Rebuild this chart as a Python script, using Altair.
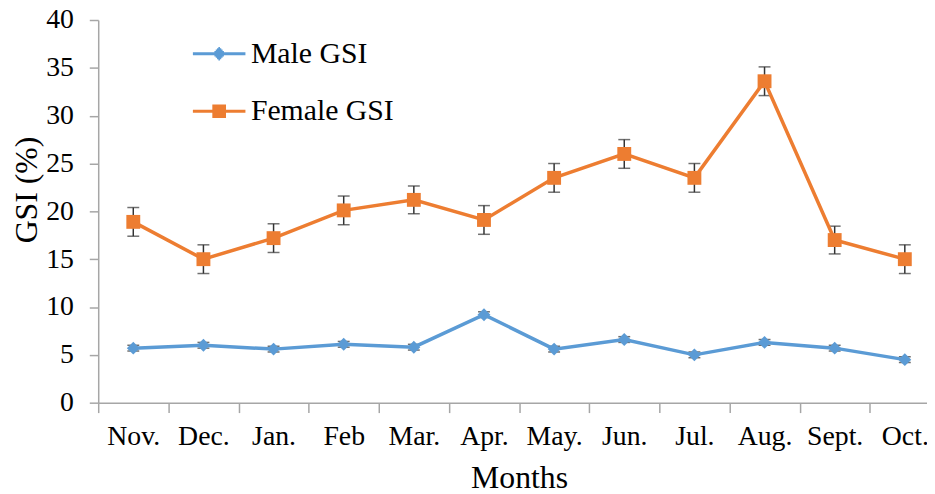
import altair as alt
import pandas as pd

months = ["Nov.", "Dec.", "Jan.", "Feb", "Mar.", "Apr.", "May.", "Jun.", "Jul.", "Aug.", "Sept.", "Oct."]
male_gsi = [5.7, 6.0, 5.6, 6.1, 5.8, 9.2, 5.6, 6.6, 5.0, 6.3, 5.7, 4.5]
male_se = [0.3, 0.3, 0.3, 0.3, 0.3, 0.3, 0.3, 0.3, 0.3, 0.3, 0.3, 0.3]
female_gsi = [18.9, 15.0, 17.2, 20.1, 21.2, 19.1, 23.5, 26.0, 23.5, 33.6, 17.0, 15.0]
female_se = [1.5, 1.5, 1.5, 1.5, 1.45, 1.5, 1.5, 1.5, 1.5, 1.5, 1.45, 1.5]
series_names = ["Male GSI", "Female GSI"]
series_colors = ["#5B9BD5", "#ED7D31"]
series_shapes = ["diamond", "square"]

rows = []
for name, vals, ses in [("Male GSI", male_gsi, male_se), ("Female GSI", female_gsi, female_se)]:
    for m, v, s in zip(months, vals, ses):
        rows.append({"month": m, "series": name, "gsi": v, "lo": v - s, "hi": v + s})
df = pd.DataFrame(rows)

FONT = "Liberation Serif"
AXIS_GREY = "#A6A6A6"


# legend glyphs: a line segment with a marker drawn as stroked hatch lines
def glyph(kind):
    parts = ["M-1,0L1,0"]
    steps = [i * 0.05 for i in range(-4, 5)]
    for yy in steps:
        w = 0.26 if kind == "square" else max(0.23 - abs(yy), 0.02)
        parts.append(f"M{-w:.3f},{yy:.3f}L{w:.3f},{yy:.3f}")
    return "".join(parts)


male_path = glyph("diamond")
female_path = glyph("square")

x_enc = alt.X(
    "month:N",
    sort=months,
    scale=alt.Scale(type="band", paddingInner=0, paddingOuter=0),
    axis=alt.Axis(
        title="Months",
        labelAngle=0,
        tickBand="extent",
        tickSize=10,
        tickColor=AXIS_GREY,
        domainColor=AXIS_GREY,
        domainWidth=1.5,
        tickWidth=1.5,
        labelFont=FONT,
        labelFontSize=28,
        labelColor="black",
        labelPadding=10,
        titleFont=FONT,
        titleFontSize=32,
        titleFontWeight="normal",
        titleColor="black",
        titleY=61,
        titleBaseline="top",
        grid=False,
    ),
)
y_scale = alt.Scale(domain=[0, 40], nice=False)
y_enc = alt.Y(
    "gsi:Q",
    scale=y_scale,
    axis=alt.Axis(
        title="GSI (%)",
        values=[0, 5, 10, 15, 20, 25, 30, 35, 40],
        tickSize=9,
        tickColor=AXIS_GREY,
        domainColor=AXIS_GREY,
        domainWidth=1.5,
        tickWidth=1.5,
        labelFont=FONT,
        labelFontSize=28,
        labelColor="black",
        labelPadding=16,
        titleFont=FONT,
        titleFontSize=32,
        titleFontWeight="normal",
        titleColor="black",
        titleX=-72,
        titleY=171,
        titleBaseline="middle",
        grid=False,
    ),
)

color_scale = alt.Scale(domain=series_names, range=series_colors)
shape_scale = alt.Scale(domain=series_names, range=series_shapes)

legend = alt.Legend(
    title=None,
    orient="none",
    legendX=94,
    legendY=6,
    padding=0,
    symbolSize=2809,
    symbolType={"expr": f"datum.value == 'Male GSI' ? '{male_path}' : '{female_path}'"},
    symbolStrokeWidth=3,
    symbolOpacity=1,
    labelFont=FONT,
    labelFontSize=30,
    labelColor="black",
    labelOffset=4,
    rowPadding=15,
)

base = alt.Chart(df)

err_rule = base.mark_rule(color="#333333", strokeWidth=1.5).encode(
    x=x_enc, y=alt.Y("lo:Q", scale=y_scale), y2="hi:Q"
)
cap_lo = base.mark_tick(color="#333333", thickness=1.5, size=12, orient="horizontal").encode(
    x=x_enc, y=alt.Y("lo:Q", scale=y_scale)
)
cap_hi = base.mark_tick(color="#333333", thickness=1.5, size=12, orient="horizontal").encode(
    x=x_enc, y=alt.Y("hi:Q", scale=y_scale)
)

lines = base.mark_line(strokeWidth=3.5).encode(
    x=x_enc,
    y=y_enc,
    color=alt.Color("series:N", scale=color_scale, legend=legend),
    detail="series:N",
)

points = base.mark_point(filled=True, opacity=1).encode(
    x=x_enc,
    y=y_enc,
    color=alt.Color("series:N", scale=color_scale, legend=None),
    shape=alt.Shape("series:N", scale=shape_scale, legend=None),
    size=alt.Size("series:N", scale=alt.Scale(domain=series_names, range=[170, 196]), legend=None),
)

chart = (
    alt.layer(err_rule, cap_lo, cap_hi, lines, points)
    .resolve_scale(color="independent")
    .resolve_legend(color="independent")
    .properties(
        width=849,
        height=386,
        autosize=alt.AutoSizeParams(type="none"),
        padding={"left": 91, "top": 10, "right": -13, "bottom": 90},
        background="white",
    )
    .configure(font=FONT)
    .configure_axis(labelFont=FONT, titleFont=FONT)
    .configure_legend(labelFont=FONT, labelFontSize=30, labelColor="black")
    .configure_view(stroke=None)
)

chart.save("out.html", embed_options={"renderer": "svg", "actions": False})
